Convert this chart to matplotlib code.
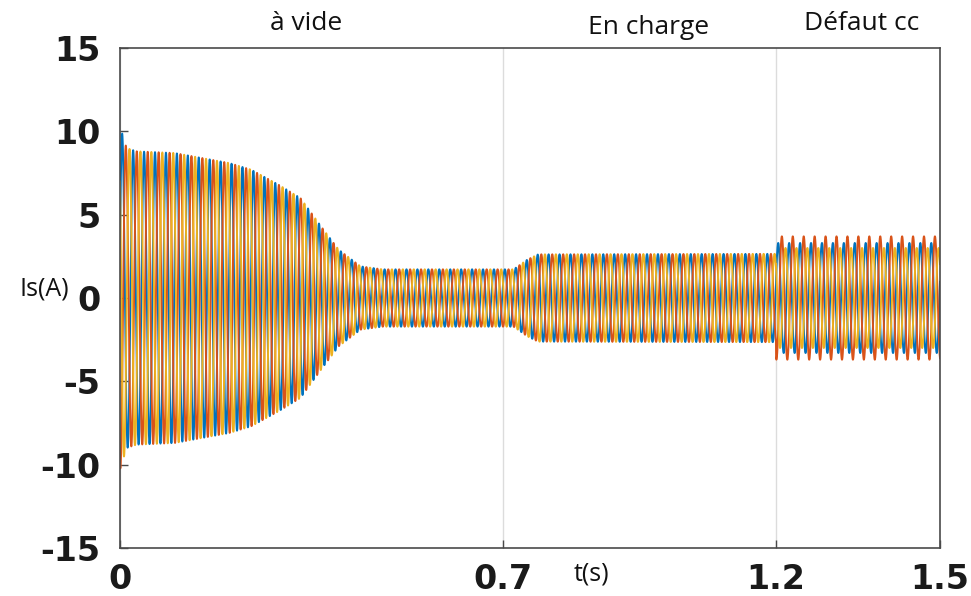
import numpy as np
import matplotlib
matplotlib.use("Agg")
import matplotlib.pyplot as plt

plt.rcParams["axes.unicode_minus"] = False

# ---- data ----
freq_hz = 50.0
t_end = 1.5
# stator current envelope (A) at key instants (start-up, no-load, load)
env_t = [0.0, 0.012, 0.03, 0.10, 0.15, 0.20, 0.24, 0.29, 0.33, 0.37, 0.40, 0.44, 0.48,
         0.72, 0.745, 0.765, 1.2, 1.5]
env_a = [10.3, 9.0, 8.8, 8.7, 8.4, 8.1, 7.7, 6.8, 6.0, 4.2, 2.9, 1.9, 1.72,
         1.72, 2.3, 2.62, 2.65, 2.65]
# short-circuit fault starting at 1.2 s: amplitude of each phase
fault_t = 1.2
fault_amp = [3.3, 3.7, 3.0]          # blue, orange, yellow
phase_shift_deg = [0, -120, 120]
colors = ["#0072BD", "#D95319", "#EDB120"]

x_ticks = [0, 0.7, 1.2, 1.5]
x_ticklabels = ["0", "0.7", "1.2", "1.5"]
y_ticks = [-15, -10, -5, 0, 5, 10, 15]
labels = ["à vide", "En charge", "Défaut cc"]
label_px = [(306, 24), (649, 27), (862, 24)]

# ---- figure ----
fig = plt.figure(figsize=(9.71, 5.96), dpi=100)
ax = fig.add_axes([120 / 971, 48 / 596, 820 / 971, 500 / 596])

t = np.linspace(0, t_end, 30001)
env = np.interp(t, env_t, env_a)
for k in range(3):
    amp = np.where(t >= fault_t, fault_amp[k], env)
    y = amp * np.sin(2 * np.pi * freq_hz * t + np.deg2rad(phase_shift_deg[k]) + 0.3)
    ax.plot(t, y, color=colors[k], lw=1.4, solid_joinstyle="round")

ax.set_xlim(0, 1.5)
ax.set_ylim(-15, 15)
ax.set_xticks(x_ticks)
ax.set_xticklabels(x_ticklabels)
ax.set_yticks(y_ticks)
ax.grid(axis="x", color="#dcdcdc", lw=1.0)
ax.set_axisbelow(True)
for s in ax.spines.values():
    s.set_color("#4a4a4a")
    s.set_linewidth(1.2)
ax.tick_params(direction="in", length=6, width=1.0, color="#4a4a4a",
               labelsize=24, top=False, right=False)
ax.tick_params(axis="y", pad=14)
ax.tick_params(axis="x", pad=11)
for lab in ax.get_xticklabels() + ax.get_yticklabels():
    lab.set_fontfamily("DejaVu Sans")
    lab.set_fontweight("bold")
    lab.set_color("#1a1a1a")

for txt, (px, py) in zip(labels, label_px):
    fig.text(px / 971, 1 - py / 596, txt, ha="center", va="center",
             fontsize=19, family="Open Sans", color="#111111")

fig.text(591 / 971, 1 - 574 / 596, "t(s)", ha="center", va="center", fontsize=18,
         family="Open Sans", color="#111111")
fig.text(44 / 971, 1 - 289 / 596, "Is(A)", ha="center", va="center", fontsize=18,
         family="Open Sans", color="#111111")

fig.savefig("out.png", dpi=100)
